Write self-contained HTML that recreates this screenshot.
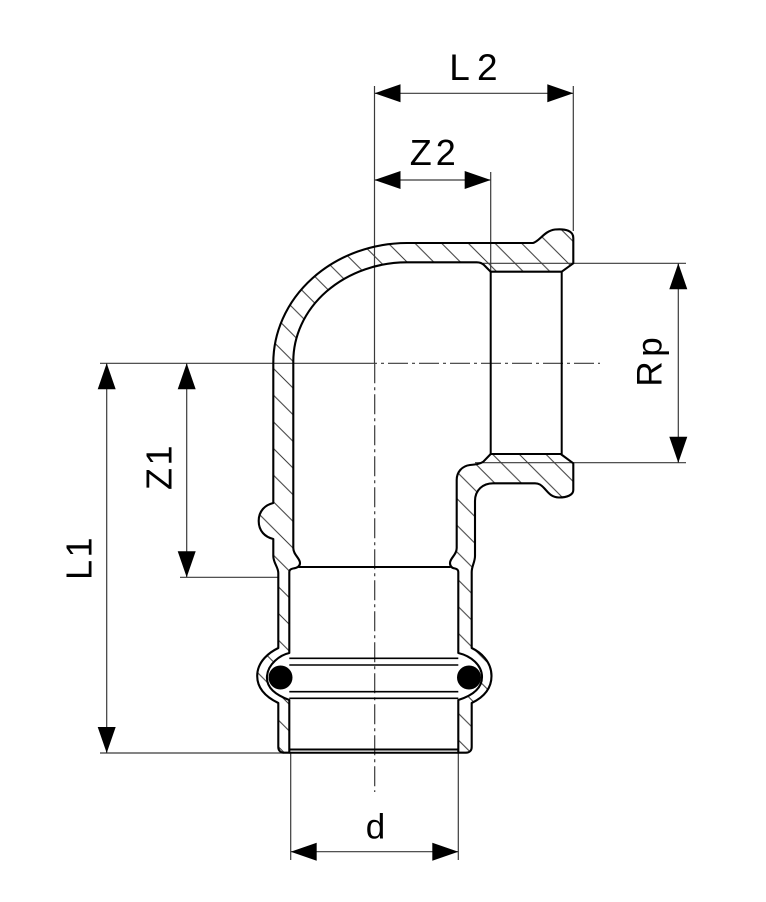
<!DOCTYPE html>
<html>
<head>
<meta charset="utf-8">
<style>
html,body{margin:0;padding:0;background:#fff;}
svg{display:block;}
text{font-family:"Liberation Sans",Arial,sans-serif;fill:#000;}
</style>
</head>
<body>
<svg width="766" height="902" viewBox="0 0 766 902" xmlns="http://www.w3.org/2000/svg">
<defs>
<pattern id="h" patternUnits="userSpaceOnUse" width="26.67" height="26.67" x="0" y="15">
<path d="M-2,-2 L28.67,28.67 M-2,24.67 L2,28.67 M24.67,-2 L28.67,2" stroke="#3a3a3a" stroke-width="1" fill="none"/>
</pattern>
</defs>
<rect width="766" height="902" fill="#fff"/>

<!-- thin extension / centre lines -->
<g stroke="#3a3a3a" stroke-width="1.2" fill="none">
<line x1="374.5" y1="86" x2="374.5" y2="363"/>
<line x1="573.3" y1="86" x2="573.3" y2="231"/>
<line x1="490.7" y1="172" x2="490.7" y2="272"/>
<line x1="100" y1="363.3" x2="357" y2="363.3"/>
<line x1="100" y1="753" x2="284" y2="753"/>
<line x1="180" y1="577.3" x2="278.3" y2="577.3"/>
<line x1="483" y1="263.3" x2="686" y2="263.3"/>
<line x1="475" y1="462.7" x2="686" y2="462.7"/>
<line x1="290.7" y1="753" x2="290.7" y2="860"/>
<line x1="458.3" y1="753" x2="458.3" y2="860"/>
<!-- dimension lines -->
<line x1="374.5" y1="93.3" x2="573.3" y2="93.3"/>
<line x1="374.5" y1="180" x2="490.7" y2="180"/>
<line x1="106.7" y1="363.3" x2="106.7" y2="753"/>
<line x1="186.7" y1="363.3" x2="186.7" y2="577.3"/>
<line x1="678.3" y1="263.3" x2="678.3" y2="462.7"/>
<line x1="290.7" y1="851.7" x2="458.3" y2="851.7"/>
</g>
<g stroke="#3a3a3a" stroke-width="1.2" fill="none" stroke-dasharray="20 4 3 4">
<line x1="357" y1="363.3" x2="600" y2="363.3"/>
<line x1="374.7" y1="363.3" x2="374.7" y2="792"/>
</g>

<!-- arrowheads -->
<g fill="#000">
<polygon points="374.5,93.3 400.5,84.3 400.5,102.3"/>
<polygon points="573.3,93.3 547.3,84.3 547.3,102.3"/>
<polygon points="374.5,180 400.5,171 400.5,189"/>
<polygon points="490.7,180 464.7,171 464.7,189"/>
<polygon points="106.7,363.3 97.7,389.3 115.7,389.3"/>
<polygon points="106.7,753 97.7,727 115.7,727"/>
<polygon points="186.7,363.3 177.7,389.3 195.7,389.3"/>
<polygon points="186.7,577.3 177.7,551.3 195.7,551.3"/>
<polygon points="678.3,263.3 669.3,289.3 687.3,289.3"/>
<polygon points="678.3,462.7 669.3,436.7 687.3,436.7"/>
<polygon points="290.7,851.7 316.7,842.7 316.7,860.7"/>
<polygon points="458.3,851.7 432.3,842.7 432.3,860.7"/>
</g>

<!-- section regions -->
<g stroke="#000" stroke-width="2.1" fill="url(#h)" stroke-linejoin="round">
<path d="M 289.3 752.7 L 284 752.7 C 280.5 752.7, 278.3 750.5, 278.3 747 L 278.3 703 C 270 699, 257.2 691, 257.2 676 C 257.2 661, 270 652, 278.3 648 L 278.3 573 C 278.3 567, 273.3 563, 273.3 556 L 273.3 539 C 265 537, 258.7 531, 258.7 521 C 258.7 511, 265 505, 273.3 503 L 273.3 363 A 134 120 0 0 1 407 243 L 533 243 C 540 241, 544 231, 555 229.5 C 566 228.5, 573.3 231, 573.3 238 L 573.3 263.3 L 561.7 271.7 L 490.7 271.7 L 484 265 C 482 263, 480 262.3, 476.7 262.3 L 407 262.3 A 114 99 0 0 0 293.3 361.3 L 293.3 548 C 293.3 555, 300 558, 300 563 C 300 566.5, 297 568, 293 568.5 C 290.5 569, 289.3 570, 289.3 572 L 289.3 653 C 280 655, 268 664, 267 676 C 266 688, 276 695, 289.3 700 Z"/>
<path d="M 490.7 454 L 560.7 454 L 573.3 463.3 L 573.3 490 C 573.3 495, 567 497.5, 559 497.5 C 551 497.5, 548 492, 544 488 C 541 485, 539 483.3, 535 483.3 L 493 483.3 C 483 483.3, 475 490, 475 501 L 475 556 C 475 562, 471.7 566, 471.7 572 L 471.7 648 C 480 652, 491.5 661, 491.5 676 C 491.5 691, 480 699, 471.7 703 L 471.7 747 C 471.7 750.5, 469.5 752.7, 466 752.7 L 458.3 752.7 L 458.3 700 C 471 696, 482 689, 482 677 C 482 665, 471 656, 458.3 653 L 458.3 572 C 458.3 570, 457 569, 455 568.5 C 451.5 568, 450 566, 450 563 C 450 558, 456.7 555, 456.7 548 L 456.7 480 C 456.7 472, 462 466, 470 465 C 476 464.5, 480 464, 483.3 461.7 Z"/>
</g>

<!-- interior outlines -->
<g stroke="#000" stroke-width="2" fill="none">
<line x1="490.7" y1="271.7" x2="490.7" y2="454"/>
<line x1="561.7" y1="271.7" x2="561.7" y2="454"/>
<line x1="298.5" y1="567" x2="450.5" y2="567"/>
<line x1="289.3" y1="752.7" x2="458.3" y2="752.7"/>
<line x1="289.3" y1="749.5" x2="458.3" y2="749.5"/>
</g>
<g stroke="#000" stroke-width="1.6" fill="none">
<line x1="289.3" y1="658.3" x2="458.3" y2="658.3"/>
<line x1="289.3" y1="665" x2="458.3" y2="665"/>
<line x1="289.3" y1="691.7" x2="458.3" y2="691.7"/>
<line x1="289.3" y1="698.3" x2="458.3" y2="698.3"/>
</g>

<!-- O-rings -->
<circle cx="280.5" cy="677.5" r="12" fill="#000"/>
<circle cx="469" cy="677.5" r="12" fill="#000"/>

<!-- labels -->
<text x="459.5" y="80" font-size="37" text-anchor="middle">L</text>
<text x="487.3" y="80" font-size="37" text-anchor="middle">2</text>
<text x="420.8" y="165" font-size="36" text-anchor="middle">Z</text>
<text x="445.8" y="165" font-size="36" text-anchor="middle">2</text>
<text x="375.5" y="838.3" font-size="35" text-anchor="middle">d</text>
<text x="91.7" y="570" font-size="36" text-anchor="middle" transform="rotate(-90 91.7 570)">L</text>
<text x="91.7" y="547.5" font-size="36" text-anchor="middle" transform="rotate(-90 91.7 547.5)">1</text>
<text x="171.7" y="479" font-size="36" text-anchor="middle" transform="rotate(-90 171.7 479)">Z</text>
<text x="171.7" y="455.5" font-size="36" text-anchor="middle" transform="rotate(-90 171.7 455.5)">1</text>
<text x="661.7" y="374" font-size="35" text-anchor="middle" transform="rotate(-90 661.7 374)">R</text>
<text x="661.7" y="347" font-size="35" text-anchor="middle" transform="rotate(-90 661.7 347)">p</text>
</svg>
</body>
</html>
